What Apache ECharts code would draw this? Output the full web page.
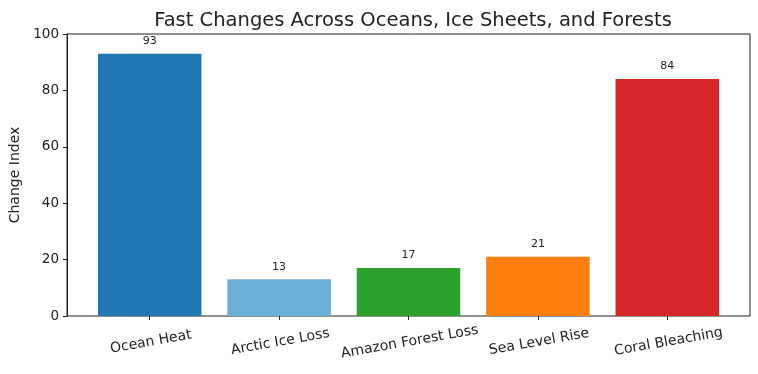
<!DOCTYPE html>
<html><head><meta charset="utf-8">
<script src="https://cdn.jsdelivr.net/npm/echarts@6/dist/echarts.min.js"></script>
<style>html,body{margin:0;padding:0;background:#fff}#c{width:758px;height:374px}</style>
</head><body><div id="c"></div>
<script>
const categories = ["Ocean Heat", "Arctic Ice Loss", "Amazon Forest Loss", "Sea Level Rise", "Coral Bleaching"];
const values = [93, 13, 17, 21, 84];
const colors = ["#1f77b4", "#6baed6", "#2ca02c", "#ff7f0e", "#d62728"];
const yTicks = [0, 20, 40, 60, 80, 100];

const font = "DejaVu Sans";
const chart = echarts.init(document.getElementById('c'));
chart.setOption({
  animation: false,
  title: { text: "Fast Changes Across Oceans, Ice Sheets, and Forests", left: 408, top: 6, textAlign: 'center',
    textStyle: { fontFamily: font, fontSize: 19.5, fontWeight: 'normal', color: '#222' } },
  grid: [
    { left: 67, right: 8, top: 34, bottom: 58, show: true, borderColor: '#222', borderWidth: 1, backgroundColor: 'transparent' },
    { left: 85, right: 26, top: 34, bottom: 58 }
  ],
  xAxis: [
    { gridIndex: 0, type: 'value', min: 0, max: 1, show: false },
    { gridIndex: 1, type: 'category', data: categories,
      axisLine: { show: false },
      axisTick: { show: true, alignWithLabel: true, length: 4, lineStyle: { color: '#222' } },
      axisLabel: { rotate: 10, align: 'center', verticalAlign: 'top', margin: 19, fontFamily: font, fontSize: 14, color: '#222' } }
  ],
  yAxis: [
    { gridIndex: 0, type: 'value', min: 0, max: 100, interval: 20,
      name: 'Change Index', nameLocation: 'middle', nameGap: 43,
      nameTextStyle: { fontFamily: font, fontSize: 14, color: '#222' },
      axisLine: { show: true, lineStyle: { color: '#222' } },
      axisTick: { show: true, length: 4, lineStyle: { color: '#222' } },
      splitLine: { show: false },
      axisLabel: { fontFamily: font, fontSize: 13.5, color: '#222', margin: 8,
        formatter: v => yTicks.includes(v) ? String(v) : '' } },
    { gridIndex: 1, type: 'value', min: 0, max: 100, show: false, splitLine: { show: false } }
  ],
  series: [{
    type: 'bar', xAxisIndex: 1, yAxisIndex: 1, barWidth: '80%',
    data: values.map((v, i) => ({ value: v, itemStyle: { color: colors[i] } })),
    label: { show: true, position: 'top', distance: 7, fontFamily: font, fontSize: 11, color: '#222' }
  }]
});
</script></body></html>
